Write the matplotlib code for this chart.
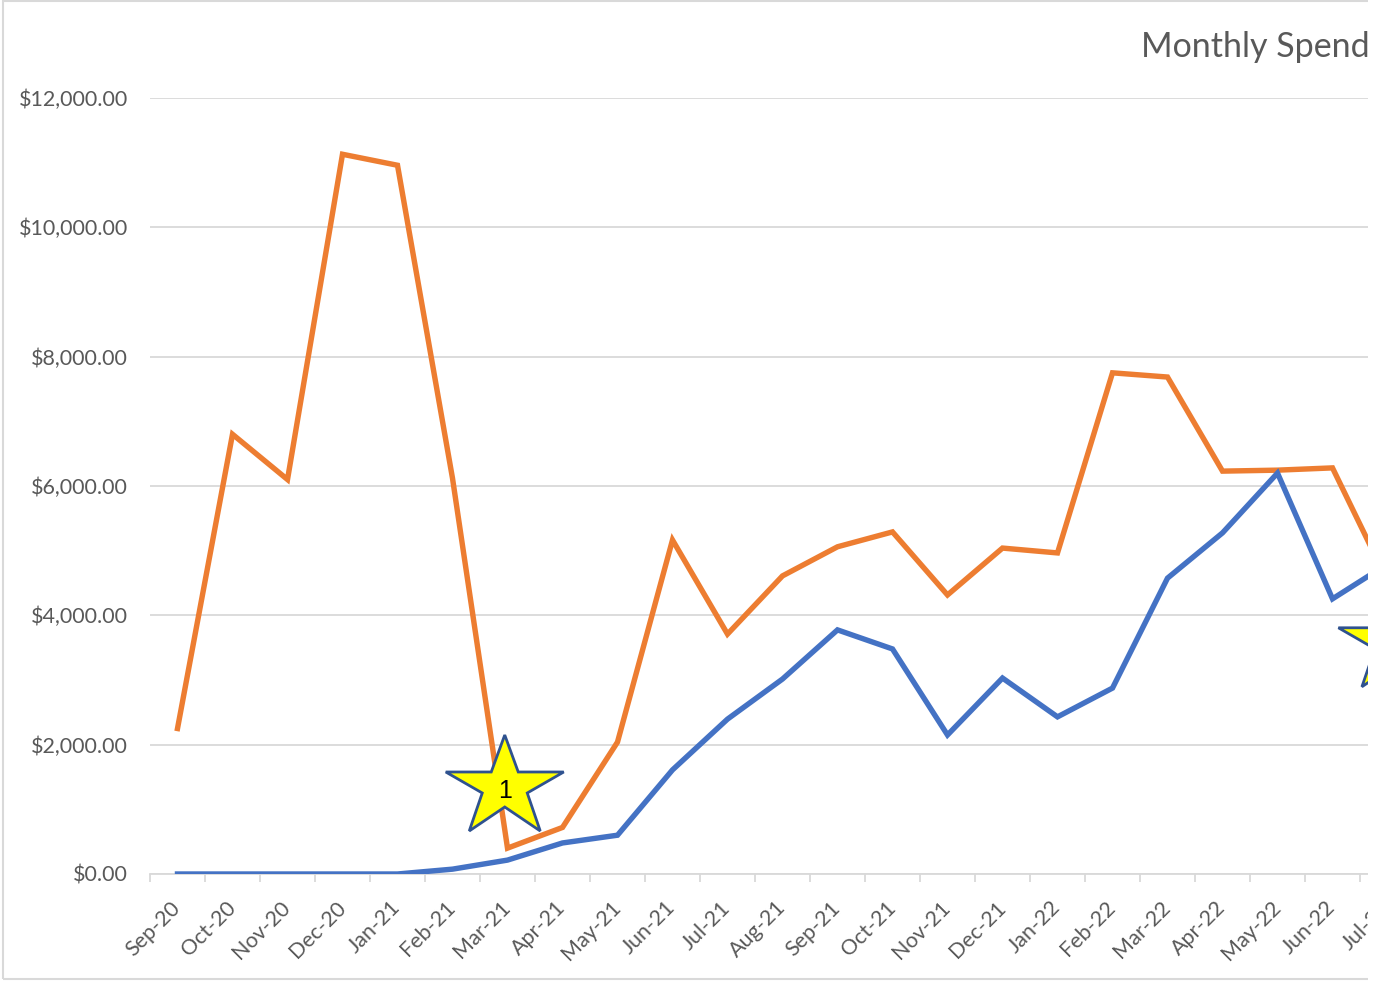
import numpy as np
import matplotlib
matplotlib.use('Agg')
import matplotlib.pyplot as plt
from matplotlib import transforms
from matplotlib.patches import Polygon, Rectangle

# data
months = ['Sep-20', 'Oct-20', 'Nov-20', 'Dec-20', 'Jan-21', 'Feb-21', 'Mar-21',
          'Apr-21', 'May-21', 'Jun-21', 'Jul-21', 'Aug-21', 'Sep-21', 'Oct-21',
          'Nov-21', 'Dec-21', 'Jan-22', 'Feb-22', 'Mar-22', 'Apr-22', 'May-22',
          'Jun-22', 'Jul-22']
spend_orange = [2250, 6800, 6100, 11130, 10960, 6120, 400, 720, 2040, 5165,
                3710, 4610, 5060, 5290, 4315, 5040, 4965, 7750, 7685, 6230,
                6245, 6280, 4530]
spend_blue = [0, 0, 0, 0, 0, 75, 215, 480, 600, 1610, 2395, 3015, 3775, 3480,
              2150, 3030, 2430, 2875, 4575, 5275, 6200, 4255, 4795]
# star callouts: (x position in months, y value, label)
stars = [(5.95, 1330, '1'), (22.18, 3560, '2')]

W, H = 1378, 983
plt.rcParams['font.family'] = ['Lato', 'DejaVu Sans']
fig = plt.figure(figsize=(W / 100, H / 100), dpi=100)

# axes: left edge at 150px, 55px per month, runs past the right edge
ax = fig.add_axes([150 / W, 109 / H, 24 * 55 / W, 776 / H])
x = np.arange(len(months))
ax.plot(x, spend_orange, color='#ED7D31', lw=3.9, solid_joinstyle='miter', zorder=3)
ax.plot(x, spend_blue, color='#4472C4', lw=3.9, solid_joinstyle='miter', zorder=4)

ax.set_xlim(-0.5, 23.5)
ax.set_ylim(0, 12000)
ax.set_yticks(np.arange(0, 12001, 2000))
ax.set_yticklabels([f'${v:,.2f}' for v in np.arange(0, 12001, 2000)])
ax.grid(axis='y', color='#D9D9D9', lw=1.3, zorder=0)
ax.set_xticks(x)
ax.set_xticklabels(months, rotation=45, ha='right', va='center', rotation_mode='anchor')
ax.set_xticks(np.arange(-0.5, 23.5, 1), minor=True)
ax.tick_params(axis='x', which='major', length=0, pad=22, labelsize=15.5, labelcolor='#595959')
ax.tick_params(axis='x', which='minor', length=6, width=1.3, color='#D9D9D9')
ax.tick_params(axis='y', length=0, pad=16, labelsize=15.5, labelcolor='#595959')
for s in ['left', 'right', 'top']:
    ax.spines[s].set_visible(False)
ax.spines['bottom'].set_color('#D9D9D9')
ax.spines['bottom'].set_linewidth(1.3)
ax.set_facecolor('none')

# yellow star shapes (pixel offsets from the centre)
star_px = np.array([(0, 53), (13.5, 16), (59, 16), (22.5, -5), (35.5, -43), (0, -19),
                    (-35.5, -43), (-22.5, -5), (-59, 16), (-13.5, 16)]) / 100.0
for sx, sy, lab in stars:
    tr = fig.dpi_scale_trans + transforms.ScaledTranslation(sx, sy, ax.transData)
    ax.add_patch(Polygon(star_px, closed=True, transform=tr, facecolor='#FFFF00',
                         edgecolor='#2F528F', lw=2, zorder=6, clip_on=False))
    ax.text(0, -0.03, lab, transform=tr, ha='center', va='center', fontsize=18,
            family='Liberation Sans', color='black', zorder=7)

fig.text(1141 / W, 1 - 47 / H, 'Monthly Spend', fontsize=24.5, color='#595959',
         ha='left', va='center')

# chart border, then the cut at the right edge
fig.add_artist(Rectangle((3 / W, 4 / H), 1.2, 1 - 5 / H, transform=fig.transFigure,
                         fill=False, edgecolor='#D9D9D9', lw=1.5))
fig.add_artist(Rectangle((1368 / W, 0), 10 / W, 1, transform=fig.transFigure,
                         facecolor='white', edgecolor='none', zorder=10))

fig.savefig('out.png', dpi=100)
